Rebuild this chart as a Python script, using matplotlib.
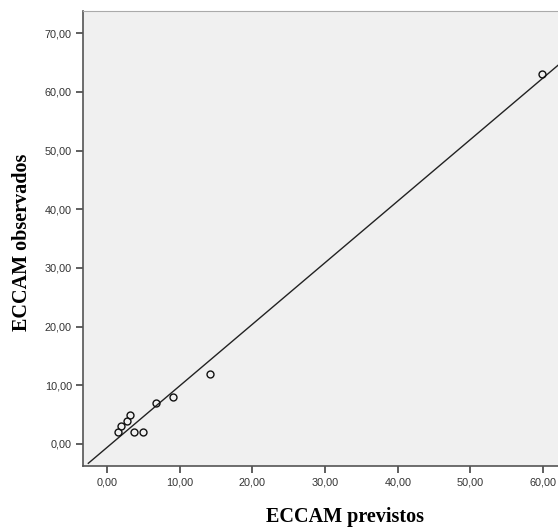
import matplotlib
matplotlib.use('Agg')
import matplotlib.pyplot as plt
from matplotlib.ticker import FuncFormatter

# valores
previstos = [1.56, 1.93, 2.71, 3.21, 3.72, 4.91, 6.70, 9.09, 14.23, 59.80]
observados = [2.0, 3.0, 4.0, 5.0, 2.0, 2.0, 7.0, 8.0, 12.0, 63.0]
fit_slope = 1.05
fit_intercept = -0.59
fit_x = [-2.57, 66.0]
x_ticks = [0, 10, 20, 30, 40, 50, 60]
y_ticks = [0, 10, 20, 30, 40, 50, 60, 70]

fig = plt.figure(figsize=(5.58, 5.27), dpi=100)
ax = fig.add_axes([83 / 558, 61 / 527, (565 - 83) / 558, (466 - 11) / 527])
ax.set_facecolor('#f0f0f0')

fit_y = [fit_slope * v + fit_intercept for v in fit_x]
ax.plot(fit_x, fit_y, color='#222222', lw=1.0, zorder=2)
ax.plot(previstos, observados, 'o', mfc='none', mec='#111111', ms=5, mew=1.0, zorder=3)

ax.set_xlim(-3.3, 63.0)
ax.set_ylim(-3.75, 73.8)
ax.set_xticks(x_ticks)
ax.set_yticks(y_ticks)
fmt = FuncFormatter(lambda v, p: ('%.2f' % v).replace('.', ','))
ax.xaxis.set_major_formatter(fmt)
ax.yaxis.set_major_formatter(fmt)
ax.tick_params(direction='out', length=5, width=1.2, color='#444444', labelsize=7.8,
               labelcolor='#333333', pad=3)
for lab in ax.get_xticklabels() + ax.get_yticklabels():
    lab.set_family('Liberation Sans')

ax.spines['left'].set_color('#555555')
ax.spines['bottom'].set_color('#555555')
ax.spines['left'].set_linewidth(1.2)
ax.spines['bottom'].set_linewidth(1.2)
ax.spines['top'].set_color('#aaaaaa')
ax.spines['right'].set_visible(False)

fig.text(345 / 558, 1 - 517 / 527, 'ECCAM previstos', ha='center', va='center',
         fontsize=14.5, fontweight='bold', family='Liberation Serif')
fig.text(22 / 558, 1 - 242 / 527, 'ECCAM observados', ha='center', va='center',
         rotation=90, fontsize=14.5, fontweight='bold', family='Liberation Serif')

fig.savefig('out.png', dpi=100)
